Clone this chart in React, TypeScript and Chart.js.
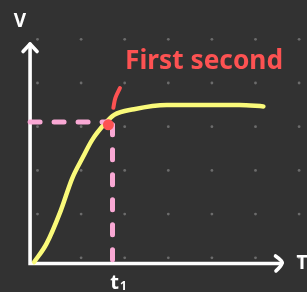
import React, { useEffect, useRef } from "react";
import { Chart, registerables } from "chart.js";

Chart.register(...registerables);

// ---- data ----
const time = [0.05, 0.2, 0.37, 0.51, 0.64, 0.75, 0.91, 1.02, 1.26, 1.66, 2.04, 2.54, 2.83];
const velocity = [0.01, 0.14, 0.37, 0.6, 0.75, 0.87, 0.99, 1.05, 1.09, 1.12, 1.12, 1.12, 1.11];
const t1 = 1;
const v1 = 1;
const markerT = [0.95];
const markerV = [0.98];
const slashT = [1.01, 1.035, 1.09];
const slashV = [1.1, 1.17, 1.24];
const annotationText = "First second";
const yLabel = "V";
const xLabel = "T";
const tickLabel = "t";
const tickSub = "1";

const BG = "#323232";
const YELLOW = "#fafa7a";
const PINK = "#f9a8d4";
const RED = "#fd5252";

const decorPlugin = {
  id: "decor",
  beforeDraw(chart: any) {
    const { ctx, width, height } = chart;
    ctx.save();
    ctx.fillStyle = BG;
    ctx.fillRect(0, 0, width, height);
    ctx.fillStyle = "#6c6c6c";
    for (let i = 0; i < 7; i++) {
      for (let j = 0; j < 6; j++) {
        ctx.beginPath();
        ctx.arc(37.5 + i * 43.6, 39.3 + j * 43.7, 1.4, 0, Math.PI * 2);
        ctx.fill();
      }
    }
    ctx.restore();
  },
  beforeDatasetsDraw(chart: any) {
    const { ctx } = chart;
    const xs = chart.scales.x;
    const ys = chart.scales.y;
    const x0 = xs.getPixelForValue(0);
    const y0 = ys.getPixelForValue(0);
    ctx.save();
    ctx.strokeStyle = "#ffffff";
    ctx.lineWidth = 3.6;
    ctx.lineJoin = "miter";
    ctx.lineCap = "round";
    ctx.beginPath();
    ctx.moveTo(x0, 44);
    ctx.lineTo(x0, y0);
    ctx.lineTo(281, y0);
    ctx.stroke();
    ctx.lineJoin = "round";
    ctx.beginPath();
    ctx.moveTo(x0 - 7, 51.5);
    ctx.lineTo(x0, 44);
    ctx.lineTo(x0 + 7, 51.5);
    ctx.stroke();
    ctx.beginPath();
    ctx.moveTo(275.5, y0 - 7.5);
    ctx.quadraticCurveTo(283.5, y0 - 2, 282, y0);
    ctx.quadraticCurveTo(281, y0 + 3, 276, y0 + 7.5);
    ctx.stroke();
    ctx.restore();
  },
  afterDatasetsDraw(chart: any) {
    const { ctx } = chart;
    const xs = chart.scales.x;
    const ys = chart.scales.y;
    const y0 = ys.getPixelForValue(0);
    const xt = xs.getPixelForValue(t1);
    ctx.save();
    ctx.fillStyle = RED;
    ctx.font = 'bold 27px "Noto Sans"';
    ctx.textAlign = "left";
    ctx.textBaseline = "alphabetic";
    const w = ctx.measureText(annotationText).width;
    ctx.translate(125, 69);
    ctx.scale(158 / w, 1);
    ctx.fillText(annotationText, 0, 0);
    ctx.restore();

    ctx.save();
    ctx.fillStyle = "#ffffff";
    ctx.textAlign = "center";
    ctx.textBaseline = "middle";
    ctx.font = 'bold 19px "Noto Sans"';
    ctx.fillText(yLabel, 20, 22);
    ctx.fillText(xLabel, 302, y0);
    ctx.font = 'bold 20px "Noto Sans"';
    ctx.fillText(tickLabel, xt + 2, y0 + 20);
    ctx.font = 'bold 12px "Noto Sans"';
    ctx.fillText(tickSub, xt + 11, y0 + 23);
    ctx.restore();
  },
};

export default function App() {
  const ref = useRef<HTMLCanvasElement | null>(null);
  useEffect(() => {
    document.body.style.margin = "0";
    const canvas = ref.current;
    if (!canvas) return;
    const chart = new Chart(canvas, {
      type: "line",
      data: {
        datasets: [
          {
            type: "scatter",
            data: markerT.map((t, i) => ({ x: t, y: markerV[i] })),
            showLine: false,
            pointRadius: 5.5,
            pointBackgroundColor: RED,
            pointBorderWidth: 0,
            borderColor: RED,
            order: 0,
          } as any,
          {
            data: slashT.map((t, i) => ({ x: t, y: slashV[i] })),
            borderColor: RED,
            borderWidth: 4,
            borderCapStyle: "round",
            tension: 0.4,
            pointRadius: 0,
            order: 1,
          },
          {
            data: [
              { x: 0, y: v1 },
              { x: markerT[0], y: v1 },
            ],
            borderColor: PINK,
            borderWidth: 5,
            borderDash: [10, 14],
            borderCapStyle: "round",
            pointRadius: 0,
            order: 2,
          },
          {
            data: [
              { x: t1, y: markerV[0] },
              { x: t1, y: 0.02 },
            ],
            borderColor: PINK,
            borderWidth: 5,
            borderDash: [10, 15],
            borderCapStyle: "round",
            pointRadius: 0,
            order: 3,
          },
          {
            data: time.map((t, i) => ({ x: t, y: velocity[i] })),
            borderColor: YELLOW,
            borderWidth: 4.5,
            cubicInterpolationMode: "monotone",
            pointRadius: 0,
            borderCapStyle: "round",
            fill: false,
            order: 4,
          } as any,
        ],
      },
      options: {
        animation: false,
        responsive: false,
        layout: { padding: 0 },
        plugins: { legend: { display: false }, tooltip: { enabled: false } },
        scales: {
          x: { type: "linear", display: false, min: -0.298, max: 3.292 },
          y: { type: "linear", display: false, min: -0.163, max: 1.823 },
        },
      },
      plugins: [decorPlugin],
    });
    return () => chart.destroy();
  }, []);
  return (
    <div style={{ position: "fixed", left: 0, top: 0, width: 307, height: 292 }}>
      <canvas ref={ref} width={307} height={292} style={{ display: "block" }} />
    </div>
  );
}
